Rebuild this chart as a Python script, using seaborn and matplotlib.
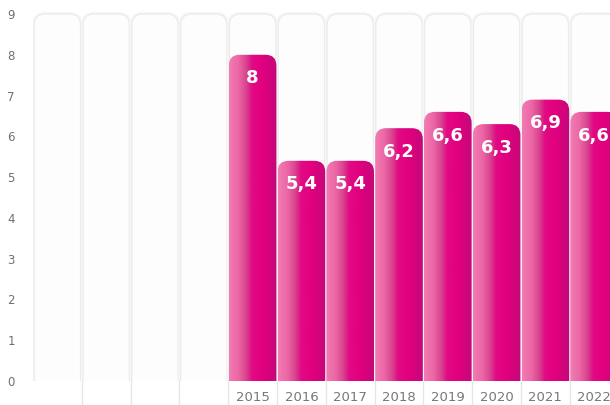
import numpy as np
import pandas as pd
import matplotlib
matplotlib.use("Agg")
import matplotlib.pyplot as plt
from matplotlib.patches import FancyBboxPatch
from matplotlib.colors import LinearSegmentedColormap
import matplotlib.transforms as mtransforms
import seaborn as sns

years = ["2015", "2016", "2017", "2018", "2019", "2020", "2021", "2022"]
values = [8.0, 5.4, 5.4, 6.2, 6.6, 6.3, 6.9, 6.6]
labels = ["8", "5,4", "5,4", "6,2", "6,6", "6,3", "6,9", "6,6"]
empty_slots = [" ", "  ", "   ", "    "]
y_ticks = [0, 1, 2, 3, 4, 5, 6, 7, 8, 9]

sns.set_theme(style="white")
plt.rcParams["font.family"] = ["DejaVu Sans"]

W, H = 610, 405
fig = plt.figure(figsize=(W / 100, H / 100), dpi=100)
fig.patch.set_facecolor("white")
left_px, bottom_px = 33, 405 - 381
ax = fig.add_axes([left_px / W, bottom_px / H, (W - left_px) / W, (H - bottom_px) / H])

col_px = 48.8
unit_px = (381 - 14) / 9.0
xmax = -0.5 + (W - left_px) / col_px
ymax = 381 / unit_px

df = pd.DataFrame({"year": years, "value": values})
order = empty_slots + years
sns.barplot(data=df, x="year", y="value", order=order, width=1.0, ax=ax,
            color="#e2007f", errorbar=None)

ax.set_xlim(-0.5, xmax)
ax.set_ylim(0, ymax)
for s in ax.spines.values():
    s.set_visible(False)
ax.set_xlabel("")
ax.set_ylabel("")
ax.set_yticks(y_ticks)
ax.set_yticklabels([str(t) for t in y_ticks])
ax.tick_params(axis="y", length=0, pad=13, labelsize=8.5, labelcolor="#707070")
ax.tick_params(axis="x", length=0, pad=7, labelsize=9.5, labelcolor="#777777")
ax.grid(False)

r_x = 0.22
aspect = (11 / unit_px) / r_x

# background columns with soft shadow
n_cols = len(order)
for i in range(n_cols):
    for lw, col in [(3.0, "#f7f7f7"), (1.0, "#ececec")]:
        bg = FancyBboxPatch((i - 0.5 + 0.025, -1.0), 0.95, 10.0,
                            boxstyle=f"round,pad=0,rounding_size={r_x}",
                            mutation_aspect=aspect, facecolor="#fdfdfd",
                            edgecolor=col, linewidth=lw, zorder=0.5)
        ax.add_patch(bg)

cmap = LinearSegmentedColormap.from_list(
    "pinkgrad",
    [(0.0, "#f27db3"), (0.2, "#ec66a5"), (0.36, "#d8448f"),
     (0.48, "#e20a84"), (0.7, "#e2007f"), (1.0, "#c4087a")])
grad = np.linspace(0, 1, 256).reshape(1, -1)

bars = [p for p in ax.patches if isinstance(p, matplotlib.patches.Rectangle)
        and np.isfinite(p.get_height()) and p.get_height() > 0]
bars.sort(key=lambda p: p.get_x())
for p, lab in zip(bars, labels):
    x0, w, h = p.get_x(), p.get_width(), p.get_height()
    p.set_visible(False)
    xa, xb = x0 + 0.012, x0 + w - 0.012
    shape = FancyBboxPatch((xa, -1.0), xb - xa, h + 1.0,
                           boxstyle=f"round,pad=0,rounding_size={r_x}",
                           mutation_aspect=aspect, facecolor="none",
                           edgecolor="none", zorder=2)
    ax.add_patch(shape)
    im = ax.imshow(grad, cmap=cmap, extent=(xa, xb, 0, h), aspect="auto",
                   zorder=2, interpolation="bicubic")
    im.set_clip_path(shape)
    ax.text(x0 + w / 2, h - 0.58, lab, ha="center", va="center",
            color="white", fontsize=13, fontweight="bold", zorder=3)

ax.set_xlim(-0.5, xmax)
ax.set_ylim(0, ymax)

# separators below the axis
trans = mtransforms.blended_transform_factory(ax.transData, ax.transAxes)
for i in range(1, n_cols):
    ax.plot([i - 0.5, i - 0.5], [0, -0.07], transform=trans, color="#e6e6e6",
            linewidth=1.0, clip_on=False, zorder=1)

fig.savefig("out.png", dpi=100, facecolor="white")
